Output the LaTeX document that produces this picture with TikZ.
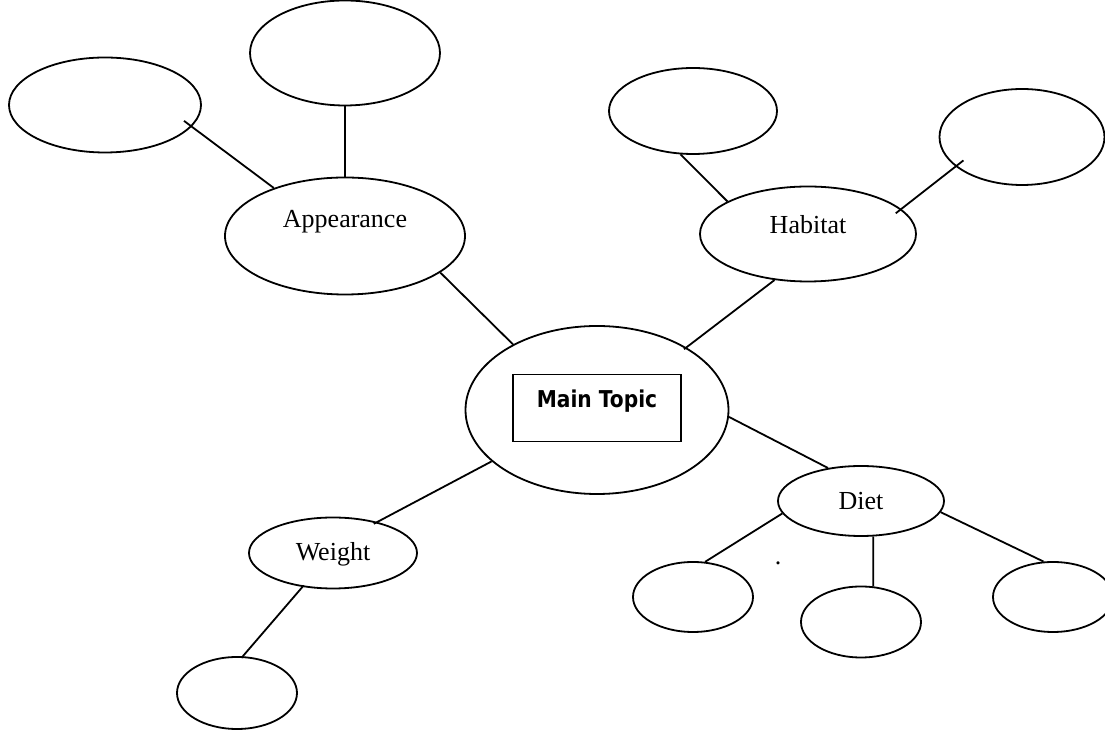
\documentclass[tikz,border=0pt]{standalone}
\usepackage{fontspec}
\setmainfont{Liberation Serif}
\newfontfamily\mtfont{DejaVu Sans}[FakeStretch=0.87]
\usetikzlibrary{shapes.geometric}
\begin{document}
\begin{tikzpicture}[x=0.5pt,y=-0.5pt, line width=0.9pt,
  oval/.style={ellipse, draw, inner sep=0pt, font=\fontsize{13}{15}\selectfont},
  link/.style={draw}]
\useasboundingbox (0,0) rectangle (1105,731);
% upper left group
\node[oval, minimum width=96pt, minimum height=47.5pt] (tl) at (105,105) {};
\node[oval, minimum width=95pt, minimum height=52.5pt] (top) at (345,53) {};
\node[oval, minimum width=120pt, minimum height=58.5pt, text height=9pt, text depth=17pt] (app) at (345,236) {Appearance};
% habitat group
\node[oval, minimum width=84pt, minimum height=43pt] (htl) at (693,111) {};
\node[oval, minimum width=82.5pt, minimum height=48pt] (hr) at (1022,137) {};
\node[oval, minimum width=108pt, minimum height=47.5pt, text height=9pt, text depth=9pt] (hab) at (808,234) {Habitat};
% main
\node[oval, minimum width=131.5pt, minimum height=84pt] (main) at (597,410) {};
\node[draw, rectangle, inner sep=0pt, minimum width=84pt, minimum height=33.5pt, text height=8pt, text depth=8pt, font=\mtfont\bfseries\fontsize{11.6}{13}\selectfont] (box) at (597,408) {Main Topic};
% diet group
\node[oval, minimum width=83pt, minimum height=35pt, text height=9.5pt, text depth=1pt] (diet) at (861,501) {Diet};
\node[oval, minimum width=60pt, minimum height=35pt] (d1) at (693,597) {};
\node[oval, minimum width=60pt, minimum height=35.5pt] (d2) at (861,622) {};
\node[oval, minimum width=60pt, minimum height=35pt] (d3) at (1053,597) {};
\node[font=\fontsize{13}{15}\selectfont, inner sep=0pt] (dot) at (778,563) {.};
% weight group
\node[oval, minimum width=84pt, minimum height=35.5pt, text height=9pt, text depth=1pt] (wt) at (333,553) {Weight};
\node[oval, minimum width=60pt, minimum height=36pt] (wc) at (237,693) {};
% connectors
\draw[link, shorten <=-4.8pt] (tl.-14.2) -- (app.146);
\draw[link] (top.south) -- (app.north);
\draw[link] (app.-21.2) -- (main.142.3);
\draw[link] (htl.-106.8) -- (hab.158.2);
\draw[link, shorten <=-5pt, shorten >=-3.5pt] (hr.-156.7) -- (hab.15.8);
\draw[link, shorten >=-1.5pt] (hab.-126.7) -- (main.35.7);
\draw[link] (main.-3) -- (diet.135);
\draw[link, shorten >=-2pt] (main.-154.9) -- (wt.35.9);
\draw[link, shorten <=-1pt, shorten >=-1pt] (wt.-132.1) -- (wc.81.6);
\draw[link] (diet.-171.1) -- (d1.71.1);
\draw[link] (diet.-71.6) -- (d2.71.6);
\draw[link] (diet.-8.8) -- (d3.105.9);
\end{tikzpicture}
\end{document}
